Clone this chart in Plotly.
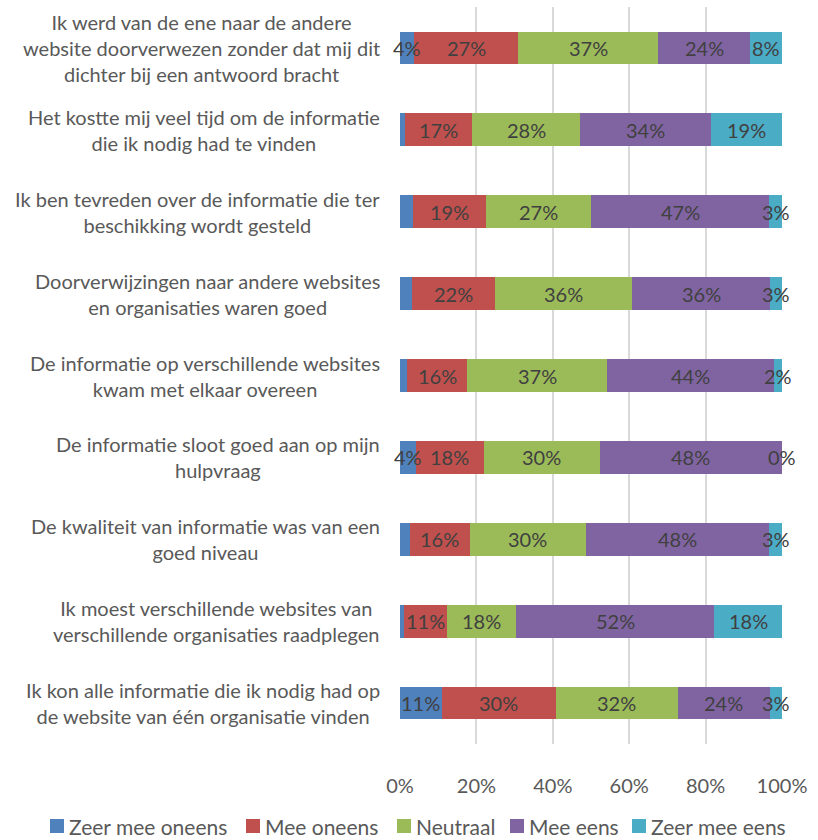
import plotly.graph_objects as go

# Survey statements (top to bottom)
statements = [
    "Ik werd van de ene naar de andere<br>website doorverwezen zonder dat mij dit<br>dichter bij een antwoord bracht",
    "Het kostte mij veel tijd om de informatie<br>die ik nodig had te vinden",
    "Ik ben tevreden over de informatie die ter<br>beschikking wordt gesteld",
    "Doorverwijzingen naar andere websites<br>en organisaties waren goed",
    "De informatie op verschillende websites<br>kwam met elkaar overeen",
    "De informatie sloot goed aan op mijn<br>hulpvraag",
    "De kwaliteit van informatie was van een<br>goed niveau",
    "Ik moest verschillende websites van<br>verschillende organisaties raadplegen",
    "Ik kon alle informatie die ik nodig had op<br>de website van één organisatie vinden",
]

# Share of respondents per answer (%)
zeer_mee_oneens = [3.6, 1.4, 3.3, 3.2, 1.8, 4.1, 2.6, 1.0, 10.9]
mee_oneens = [27.4, 17.4, 19.3, 21.7, 15.8, 17.9, 15.7, 11.2, 29.9]
neutraal = [36.6, 28.4, 27.4, 35.8, 36.6, 30.3, 30.4, 18.1, 31.9]
mee_eens = [24.0, 34.2, 46.6, 36.2, 43.6, 47.7, 47.9, 52.0, 24.2]
zeer_mee_eens = [8.4, 18.6, 3.4, 3.1, 2.2, 0.0, 3.4, 17.7, 3.1]

series_names = ["Zeer mee oneens", "Mee oneens", "Neutraal", "Mee eens", "Zeer mee eens"]
series_values = [zeer_mee_oneens, mee_oneens, neutraal, mee_eens, zeer_mee_eens]
colors = ["#4f81bd", "#c0504d", "#9bbb59", "#8064a2", "#4bacc6"]

# Which series carry a value label on each row
label_shown = [
    [True, False, False, False, False, True, False, False, True],
    [True] * 9,
    [True] * 9,
    [True] * 9,
    [True] * 9,
]

x_ticks = [0, 20, 40, 60, 80, 100]
x_tick_labels = ["0%", "20%", "40%", "60%", "80%", "100%"]

FONT = "Lato, 'Open Sans', sans-serif"
TEXT_GREY = "#595959"
LABEL_GREY = "#404040"

W, H = 818, 840
M_L, M_R, M_T, M_B = 400, 36, 7, 96
PLOT_W = W - M_L - M_R
PLOT_H = H - M_T - M_B


def px_to_paper(px, py):
    """Convert figure pixel coordinates to paper fractions."""
    return (px - M_L) / PLOT_W, (H - M_B - py) / PLOT_H


fig = go.Figure()
for name, vals, col in zip(series_names, series_values, colors):
    fig.add_trace(go.Bar(
        y=statements, x=vals, name=name, orientation="h",
        marker=dict(color=col, line=dict(width=0)),
        hoverinfo="x+name", showlegend=False,
    ))

annotations = []
shapes = []

# Value labels centred on every segment
cum = [0.0] * len(statements)
for vals, shown in zip(series_values, label_shown):
    for i, (cat, v) in enumerate(zip(statements, vals)):
        centre = cum[i] + v / 2
        cum[i] += v
        if shown[i]:
            annotations.append(dict(
                x=centre, y=cat, xref="x", yref="y", text=f"{v:.0f}%",
                showarrow=False, xanchor="center", yanchor="middle",
                font=dict(family=FONT, size=20, color=LABEL_GREY),
            ))

# Category labels: lines centred within each block, block placed left of the plot
for cat in statements:
    annotations.append(dict(
        x=0, y=cat, xref="paper", yref="y", text=cat, showarrow=False,
        xanchor="right", yanchor="middle", align="center", xshift=-18,
        font=dict(family=FONT, size=20, color=TEXT_GREY),
    ))

# Legend row under the axis: a colour square followed by the series name
legend_left_px = [50, 246, 397, 510, 632]
LEGEND_Y = 826
SQ = 14
for name, col, lx in zip(series_names, colors, legend_left_px):
    x0, y0 = px_to_paper(lx, LEGEND_Y + SQ / 2)
    x1, y1 = px_to_paper(lx + SQ, LEGEND_Y - SQ / 2)
    shapes.append(dict(
        type="rect", xref="paper", yref="paper", x0=x0, y0=y0, x1=x1, y1=y1,
        fillcolor=col, line=dict(width=0),
    ))
    tx, ty = px_to_paper(lx + SQ + 3, LEGEND_Y)
    annotations.append(dict(
        x=tx, y=ty, xref="paper", yref="paper", text=name, showarrow=False,
        xanchor="left", yanchor="middle",
        font=dict(family=FONT, size=21, color=TEXT_GREY),
    ))

fig.update_layout(
    barmode="stack",
    bargap=0.6,
    width=W, height=H,
    margin=dict(l=M_L, r=M_R, t=M_T, b=M_B),
    paper_bgcolor="white", plot_bgcolor="white",
    font=dict(family=FONT, color=TEXT_GREY),
    annotations=annotations,
    shapes=shapes,
    showlegend=False,
    xaxis=dict(
        range=[0, 100], tickvals=x_ticks, ticktext=x_tick_labels,
        showgrid=True, gridcolor="#d9d9d9", gridwidth=2,
        zeroline=False, showline=False, ticks="", ticklabelstandoff=28,
        tickfont=dict(family=FONT, size=20, color=TEXT_GREY),
        fixedrange=True,
    ),
    yaxis=dict(
        autorange="reversed", showticklabels=False, showgrid=False,
        zeroline=False, showline=False, ticks="",
    ),
)

fig.write_html("out.html")
